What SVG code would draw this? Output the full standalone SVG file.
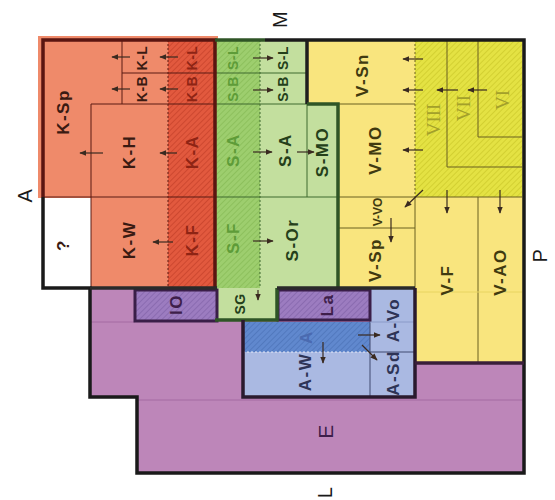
<svg xmlns="http://www.w3.org/2000/svg" width="555" height="500" viewBox="0 0 555 500">
<style>
.t{font-family:"Liberation Sans",Arial,sans-serif;font-weight:bold;font-size:17px;text-anchor:middle;dominant-baseline:central;letter-spacing:1.5px}
.s{font-size:14px;letter-spacing:0.5px}
.xs{font-size:12px;letter-spacing:0}
.r{font-family:"Liberation Serif","Times New Roman",serif;font-weight:normal;font-size:19px;fill:#A3A02A;letter-spacing:0}
.o{font-size:20px;font-weight:normal;fill:#1a1a1a}
.big{font-size:21px;font-weight:normal}
.kd{fill:#3A1A12}.kr{fill:#8E2414}.sg{fill:#5E9C38}.sd{fill:#24401A}.vd{fill:#403A10}.ad{fill:#2E3456}.ab{fill:#4A6AB0}.pd{fill:#3E1E4A}
.thin{fill:none;stroke-width:1}
.dash{fill:none;stroke-width:1;stroke-dasharray:2 2}
.thick{fill:none;stroke-width:3.5;stroke-linejoin:miter}
.arr{fill:none;stroke:#3A2A20;stroke-width:1.2;marker-end:url(#ah)}
</style>
<defs>
<marker id="ah" viewBox="0 0 10 10" refX="9" refY="5" markerWidth="6" markerHeight="6" orient="auto"><path d="M0,1 L10,5 L0,9 z" fill="#3A2A20"/></marker>
<pattern id="hk" width="4" height="4" patternUnits="userSpaceOnUse" patternTransform="rotate(45)"><rect width="4" height="4" fill="#E2593E"/><line x1="0" y1="0" x2="0" y2="4" stroke="#C4402A" stroke-width="1.4"/></pattern>
<pattern id="hs" width="4" height="4" patternUnits="userSpaceOnUse" patternTransform="rotate(45)"><rect width="4" height="4" fill="#9DCE6E"/><line x1="0" y1="0" x2="0" y2="4" stroke="#86BA56" stroke-width="1.4"/></pattern>
<pattern id="hv" width="4" height="4" patternUnits="userSpaceOnUse" patternTransform="rotate(45)"><rect width="4" height="4" fill="#E4E243"/><line x1="0" y1="0" x2="0" y2="4" stroke="#CCC82A" stroke-width="1.4"/></pattern>
<pattern id="hp" width="4" height="4" patternUnits="userSpaceOnUse" patternTransform="rotate(45)"><rect width="4" height="4" fill="#9C7CC0"/><line x1="0" y1="0" x2="0" y2="4" stroke="#8264AA" stroke-width="1.4"/></pattern>
<pattern id="ha" width="4" height="4" patternUnits="userSpaceOnUse" patternTransform="rotate(45)"><rect width="4" height="4" fill="#6088CE"/><line x1="0" y1="0" x2="0" y2="4" stroke="#4C72B8" stroke-width="1.4"/></pattern>
</defs>

<g id="E">
<polygon points="90,288 415,288 415,363 524,363 524,473 137,473 137,397 90,397" fill="#BD86B9"/>
<path class="thin" stroke="#A46AA2" d="M90,322 H135 M137,400 H524"/>
<text class="t pd big" transform="translate(325,431) rotate(-90)">E</text>
</g>

<g id="K">
<rect x="38" y="36" width="180" height="162" fill="#EF8A6A"/>
<rect x="91" y="197" width="125" height="91" fill="#EF8A6A"/>
<rect x="168" y="40" width="47" height="248" fill="url(#hk)"/>
<path class="thin" stroke="#5A1A12" d="M122,40 V104 M91,104 H215 M91,104 V288 M43,197 H215 M122,73 H215"/>
<path class="dash" stroke="#5A1A12" d="M168,40 V288"/>
<text class="t kd" transform="translate(63,112) rotate(-90)">K-Sp</text>
<text class="t kd s" transform="translate(142,58) rotate(-90)">K-L</text>
<text class="t kd s" transform="translate(142,89) rotate(-90)">K-B</text>
<text class="t kr s" transform="translate(192,58) rotate(-90)">K-L</text>
<text class="t kr s" transform="translate(192,89) rotate(-90)">K-B</text>
<text class="t kd" transform="translate(129,152) rotate(-90)">K-H</text>
<text class="t kr" transform="translate(192,152) rotate(-90)">K-A</text>
<text class="t kd" transform="translate(129,240) rotate(-90)">K-W</text>
<text class="t kr" transform="translate(192,240) rotate(-90)">K-F</text>
</g>

<g id="unknown">
<text class="t kd" transform="translate(63,245) rotate(-90)">?</text>
</g>

<g id="S">
<rect x="215" y="40" width="45" height="248" fill="url(#hs)"/>
<rect x="260" y="40" width="47" height="65" fill="#C3DF9E"/>
<rect x="260" y="104" width="78" height="184" fill="#C3DF9E"/>
<rect x="217" y="288" width="60" height="32" fill="#C3DF9E"/>
<path class="thin" stroke="#3E6A2E" d="M215,73 H307 M215,104 H307 M215,197 H338 M307,104 V197"/>
<path class="dash" stroke="#3E6A2E" d="M260,40 V288"/>
<text class="t sg s" transform="translate(233,58) rotate(-90)">S-L</text>
<text class="t sg s" transform="translate(233,89) rotate(-90)">S-B</text>
<text class="t sd s" transform="translate(283,58) rotate(-90)">S-L</text>
<text class="t sd s" transform="translate(283,89) rotate(-90)">S-B</text>
<text class="t sg" transform="translate(233,150) rotate(-90)">S-A</text>
<text class="t sd" transform="translate(285,150) rotate(-90)">S-A</text>
<text class="t sd" transform="translate(322,152) rotate(-90)">S-MO</text>
<text class="t sg" transform="translate(233,238) rotate(-90)">S-F</text>
<text class="t sd" transform="translate(292,240) rotate(-90)">S-Or</text>
<text class="t sd s" transform="translate(240,304) rotate(-90)">SG</text>
</g>

<g id="V">
<rect x="307" y="40" width="217" height="65" fill="#F9E57E"/>
<rect x="338" y="104" width="186" height="184" fill="#F9E57E"/>
<rect x="415" y="288" width="109" height="75" fill="#F9E57E"/>
<rect x="415" y="40" width="107" height="157" fill="url(#hv)"/>
<path class="thin" stroke="#6A6020" d="M338,104 H415 M338,197 H522 M338,228 H415 M415,197 V288 M478,197 V363 M447,40 V167 H522 M478,40 V137 H522"/>
<path class="thin" stroke="#E8D460" d="M415,292 H522"/>
<path class="dash" stroke="#6A6020" d="M415,40 V197"/>
<text class="t vd" transform="translate(362,75) rotate(-90)">V-Sn</text>
<text class="t vd" transform="translate(375,150) rotate(-90)">V-MO</text>
<text class="t vd xs" transform="translate(378,212) rotate(-90)">V-VO</text>
<text class="t vd" transform="translate(375,260) rotate(-90)">V-Sp</text>
<text class="t vd" transform="translate(447,280) rotate(-90)">V-F</text>
<text class="t vd" transform="translate(500,272) rotate(-90)">V-AO</text>
<text class="t r" transform="translate(433,120) rotate(-90)">VIII</text>
<text class="t r" transform="translate(463,108) rotate(-90)">VII</text>
<text class="t r" transform="translate(502,100) rotate(-90)">VI</text>
</g>

<g id="A">
<rect x="243" y="322" width="172" height="75" fill="#AAB9E2"/>
<rect x="370" y="288" width="45" height="34" fill="#AAB9E2"/>
<rect x="243" y="322" width="127" height="30" fill="url(#ha)"/>
<path class="thin" stroke="#404A70" d="M370,288 V397 M370,352 H415"/>
<path class="thin" stroke="#8A9AC8" d="M370,322 H415"/>
<path class="dash" stroke="#E8ECF8" d="M243,352 H370"/>
<text class="t ab" transform="translate(306,337) rotate(-90)">A</text>
<text class="t ad" transform="translate(305,372) rotate(-90)">A-W</text>
<text class="t ad" transform="translate(393,320) rotate(-90)">A-Vo</text>
<text class="t ad" transform="translate(393,373) rotate(-90)">A-Sd</text>
</g>

<g id="Ol">
<rect x="135" y="290" width="82" height="31" fill="url(#hp)" stroke="#3A1E48" stroke-width="3"/>
<text class="t pd" transform="translate(175,306) rotate(90)">Ol</text>
</g>

<g id="La">
<rect x="278" y="290" width="92" height="30" fill="url(#hp)" stroke="#3A1E48" stroke-width="3"/>
<text class="t pd" transform="translate(327,305) rotate(-90)">La</text>
</g>

<g id="borders">
<path class="thick" stroke="#5A1510" d="M43,197 V40 H215 V288"/>
<path class="thick" stroke="#2F5526" d="M215,40 H265"/>
<path class="thick" stroke="#1A1A1A" d="M265,40 H524 V473 H137 V397 H90 V288 H43 V197"/>
<path class="thick" stroke="#1E1E1E" d="M307,40 V104"/>
<path class="thick" stroke="#2F5526" d="M307,104 H338 V288 M277,288 V320 H215"/>
<path class="thick" stroke="#2A2A2A" d="M90,288 H217 M277,288 H415"/>
<path class="thick" stroke="#2A1A2E" d="M243,320 V397 H415 V288"/>
<path class="thick" stroke="#3A1E3A" d="M415,363 H524"/>
</g>

<g id="connectors">
<path class="arr" d="M130,57 H112"/>
<path class="arr" d="M178,57 H160"/>
<path class="arr" d="M130,89 H112"/>
<path class="arr" d="M178,89 H160"/>
<path class="arr" d="M103,153 H80"/>
<path class="arr" d="M177,153 H160"/>
<path class="arr" d="M173,242 H153"/>
<path class="arr" d="M253,58 H273"/>
<path class="arr" d="M253,90 H273"/>
<path class="arr" d="M253,152 H272"/>
<path class="arr" d="M297,152 H314"/>
<path class="arr" d="M253,241 H273"/>
<path class="arr" d="M258,290 V300"/>
<path class="arr" d="M423,59 H403"/>
<path class="arr" d="M423,90 H403"/>
<path class="arr" d="M458,90 H437"/>
<path class="arr" d="M487,90 H468"/>
<path class="arr" d="M423,150 H403"/>
<path class="arr" d="M423,190 L405,207"/>
<path class="arr" d="M447,190 V213"/>
<path class="arr" d="M500,190 V213"/>
<path class="arr" d="M391,218 V242"/>
<path class="arr" d="M323,342 V363"/>
<path class="arr" d="M358,335 H380"/>
<path class="arr" d="M362,345 L377,360"/>
</g>

<g id="labels">
<text class="t o" transform="translate(25,195) rotate(-90)">A</text>
<text class="t o" transform="translate(280,19) rotate(-90)">M</text>
<text class="t o" transform="translate(540,255) rotate(-90)">P</text>
<text class="t o" transform="translate(325,492) rotate(-90)">L</text>
</g>
</svg>
